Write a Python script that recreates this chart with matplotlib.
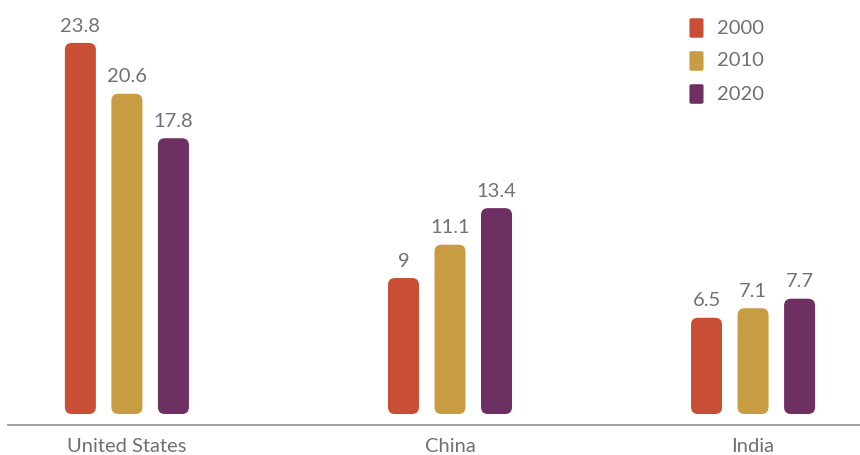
import matplotlib
matplotlib.use('Agg')
import matplotlib.pyplot as plt
from matplotlib.patches import FancyBboxPatch
import numpy as np

# Datos
paises = ['United States', 'China', 'India']
anios = ['2000', '2010', '2020']
valores_2000 = [23.8, 9, 6.5]
valores_2010 = [20.6, 11.1, 7.1]
valores_2020 = [17.8, 13.4, 7.7]
series = [valores_2000, valores_2010, valores_2020]
colores = ['#c94e36', '#c89c42', '#6e2f63']
gris = '#707174'

plt.rcParams['font.family'] = ['Lato', 'DejaVu Sans']

fig = plt.figure(figsize=(8.6, 4.55), dpi=100)
ax = fig.add_axes([8 / 860, 30 / 455, 852 / 860, 425 / 455])

centros = np.array([0, 1, 1.938])  # posiciones de los grupos
ancho = 0.096
paso = 0.144
ax.set_xlim(-0.368, 2.269)
ax.set_ylim(-0.25, 26.5)

# relacion px por unidad para redondear esquinas
px_x = 852 / (2.269 + 0.368)
px_y = 425 / (26.5 + 0.25)
radio = 7  # px
base = 0.44  # las barras empiezan un poco por encima del eje

for i, vals in enumerate(series):
    for j, v in enumerate(vals):
        x0 = centros[j] + (i - 1) * paso - ancho / 2
        pad = radio / px_x
        pad_y = radio / px_y
        caja = FancyBboxPatch((x0 + pad, base + pad_y), ancho - 2 * pad,
                              v - base - 2 * pad_y,
                              boxstyle=f'round,pad={pad},rounding_size={pad}',
                              mutation_aspect=px_x / px_y,
                              facecolor=colores[i], edgecolor='none')
        ax.add_patch(caja)
        etiqueta = f'{v:g}'
        ax.annotate(etiqueta, (x0 + ancho / 2, v), xytext=(0, 6),
                    textcoords='offset points', ha='center', va='bottom',
                    fontsize=14.5, color=gris)

for s in ['top', 'right', 'left']:
    ax.spines[s].set_visible(False)
ax.spines['bottom'].set_color('#9a9a9a')
ax.spines['bottom'].set_linewidth(1.3)
ax.set_yticks([])
ax.set_xticks(centros)
ax.set_xticklabels(paises, fontsize=14.5, color=gris)
ax.tick_params(axis='x', length=0, pad=9.5)

# Leyenda manual
for i, anio in enumerate(anios):
    yc = 1 - (28 + 33 * i) / 425
    ax.add_patch(FancyBboxPatch((684 / 852, yc - 0.02), 0.0105, 0.04,
                                boxstyle='round,pad=0.003,rounding_size=0.003',
                                transform=ax.transAxes,
                                facecolor=colores[i], edgecolor='none',
                                clip_on=False))
    ax.text(709 / 852, yc, anio, transform=ax.transAxes,
            fontsize=14.5, color=gris, va='center', ha='left')

fig.savefig('out.png', dpi=100)
